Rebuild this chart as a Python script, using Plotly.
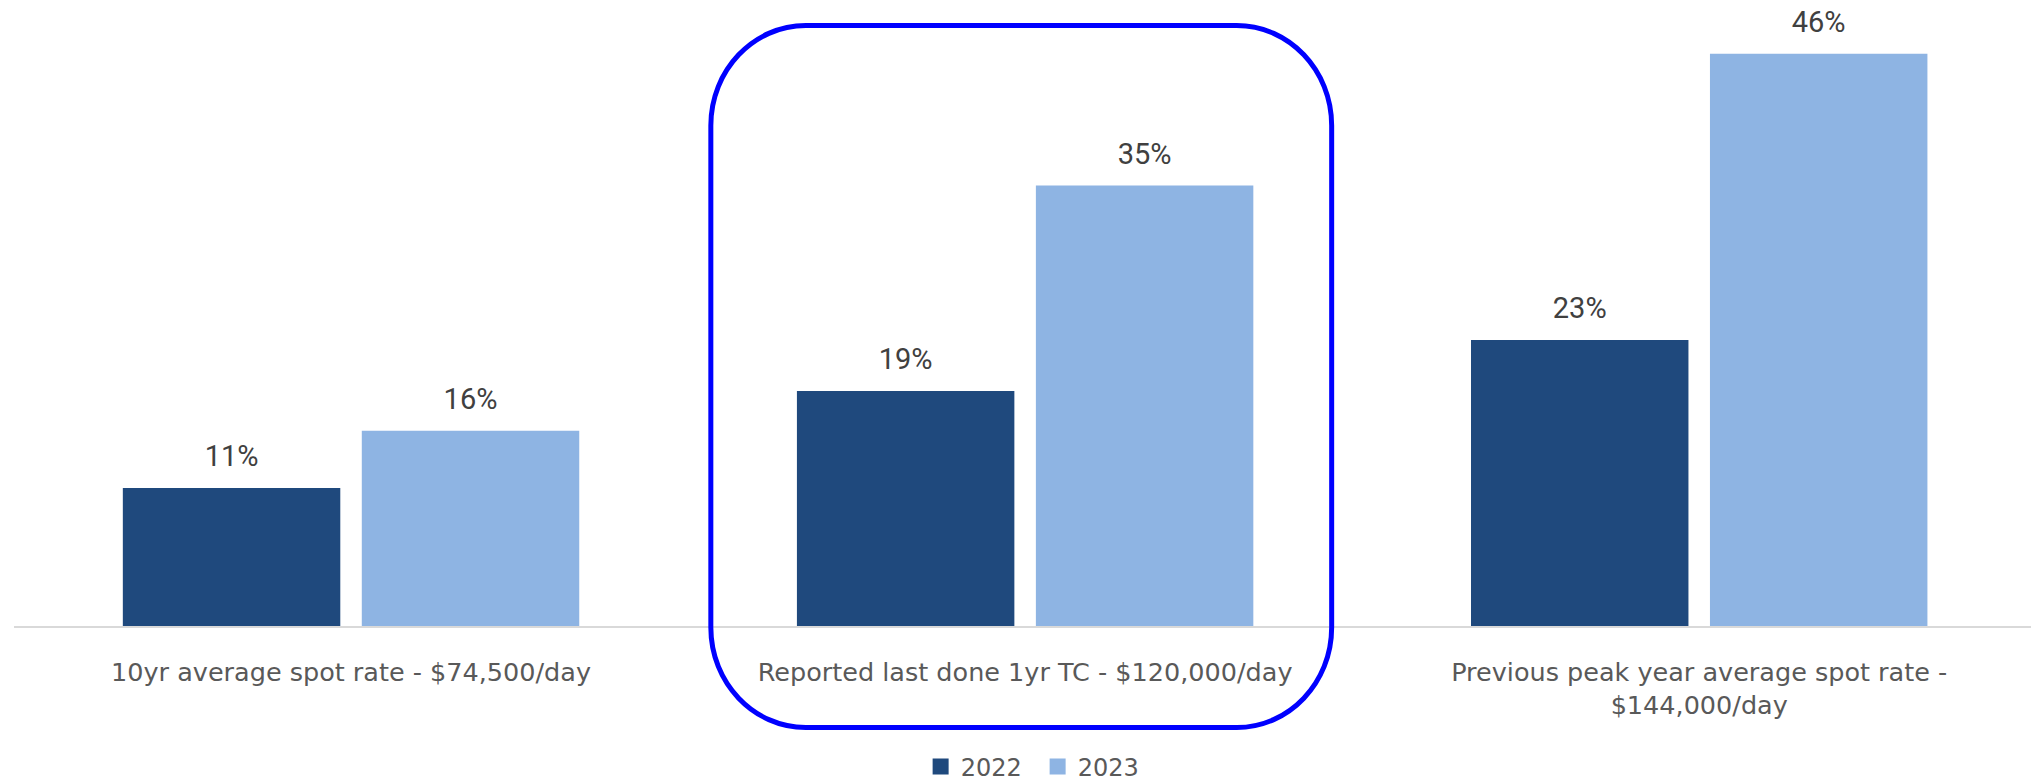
import plotly.graph_objects as go

categories = [
    "10yr average spot rate - $74,500/day",
    "Reported last done 1yr TC - $120,000/day",
    "Previous peak year average spot rate -<br>$144,000/day",
]
series_names = ["2022", "2023"]
values_2022 = [11.1, 18.9, 23.0]
values_2023 = [15.7, 35.4, 46.0]

colors = ["#1F497D", "#8EB4E3"]

W, H = 2031, 782
L, R, T, B = 13.5, 0, 4, 156
PW, PH = W - L - R, H - T - B

fig = go.Figure()
series = list(zip(series_names, [values_2022, values_2023], colors))
for name, vals, col in series:
    fig.add_trace(go.Bar(
        name=name, x=categories, y=vals, offsetgroup=name,
        marker=dict(color=col, line=dict(width=0)),
        showlegend=False, hoverinfo="skip",
    ))
# value labels, grouped like the bars (invisible markers give the text offset)
for name, vals, col in series:
    fig.add_trace(go.Scatter(
        x=categories, y=vals, offsetgroup=name, mode="markers+text",
        text=["%.0f%%" % v for v in vals], textposition="top center",
        marker=dict(size=22, color="rgba(0,0,0,0)"),
        textfont=dict(family="Roboto", size=29, color="#404040"),
        cliponaxis=False, showlegend=False, hoverinfo="skip",
    ))
# legend entries
for name, vals, col in series:
    fig.add_trace(go.Scatter(
        x=[None], y=[None], mode="markers", name=name,
        marker=dict(symbol="square", size=18, color=col),
        showlegend=True, hoverinfo="skip",
    ))

# rounded highlight box (pixel geometry converted to paper coords)
def px2paper(px, py):
    return (px - L) / PW, (T + PH - py) / PH

x0, x1, y0, y1 = 710.5, 1331.5, 25.5, 727.5
rx, ry, k = 95, 100, 0.5523
pts = [
    ("M", [(x0 + rx, y0)]),
    ("L", [(x1 - rx, y0)]),
    ("C", [(x1 - rx + k * rx, y0), (x1, y0 + ry - k * ry), (x1, y0 + ry)]),
    ("L", [(x1, y1 - ry)]),
    ("C", [(x1, y1 - ry + k * ry), (x1 - rx + k * rx, y1), (x1 - rx, y1)]),
    ("L", [(x0 + rx, y1)]),
    ("C", [(x0 + rx - k * rx, y1), (x0, y1 - ry + k * ry), (x0, y1 - ry)]),
    ("L", [(x0, y0 + ry)]),
    ("C", [(x0, y0 + ry - k * ry), (x0 + rx - k * rx, y0), (x0 + rx, y0)]),
]
path = ""
for cmd, ps in pts:
    path += cmd + " ".join("%.5f,%.5f" % px2paper(a, b) for a, b in ps) + " "
path += "Z"

fig.add_shape(type="path", path=path, xref="paper", yref="paper",
              line=dict(color="#0000FF", width=5), fillcolor="rgba(0,0,0,0)",
              layer="above")

fig.update_layout(
    width=W, height=H, autosize=False,
    margin=dict(l=L, r=R, t=T, b=B, pad=0, autoexpand=False),
    paper_bgcolor="white", plot_bgcolor="white",
    barmode="group", bargap=0.291, bargroupgap=0.09,
    scattermode="group", scattergap=0.291,
    showlegend=True,
    legend=dict(orientation="h", x=0.5075, xanchor="center",
                y=(T + PH - 767) / PH, yanchor="middle",
                entrywidth=72, entrywidthmode="pixels",
                font=dict(family="DejaVu Sans", size=24, color="#595959"),
                bgcolor="rgba(0,0,0,0)"),
    xaxis=dict(range=[-0.5, -0.5 + PW / 674.25], showgrid=False, zeroline=False,
               showline=True, linecolor="#D9D9D9", linewidth=2,
               ticks="", ticklabelstandoff=22, automargin=False,
               tickfont=dict(family="DejaVu Sans", size=25.5, color="#595959")),
    yaxis=dict(range=[0, 50], visible=False, showgrid=False, zeroline=False,
               automargin=False),
)

fig.write_html("out.html")
